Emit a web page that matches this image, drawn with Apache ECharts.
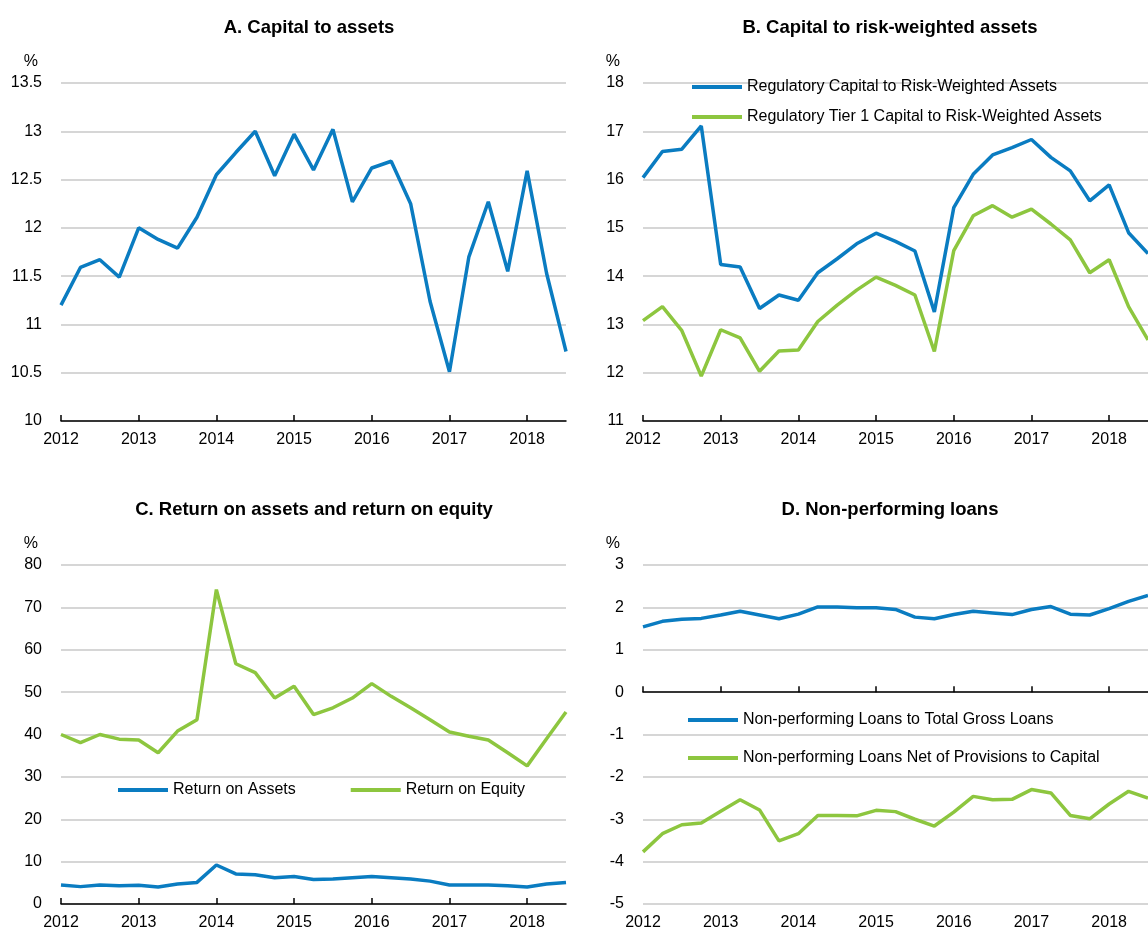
<!DOCTYPE html>
<html>
<head>
<meta charset="utf-8">
<title>Banking soundness indicators</title>
<script src="https://cdn.jsdelivr.net/npm/echarts@6/dist/echarts.min.js"></script>
<style>
  html, body { margin: 0; padding: 0; background: #fff; }
  #main { width: 1148px; height: 931px; }
</style>
</head>
<body>
<div id="main"></div>
<script>
// quarterly observations, 2012Q1 - 2018Q3
var quarters = [
  "2012Q1", "2012Q2", "2012Q3", "2012Q4", "2013Q1", "2013Q2", "2013Q3", "2013Q4",
  "2014Q1", "2014Q2", "2014Q3", "2014Q4", "2015Q1", "2015Q2", "2015Q3", "2015Q4",
  "2016Q1", "2016Q2", "2016Q3", "2016Q4", "2017Q1", "2017Q2", "2017Q3", "2017Q4",
  "2018Q1", "2018Q2", "2018Q3"
];

// A. Capital to assets
var capitalToAssets = [
  11.2, 11.59, 11.67, 11.49, 12.0, 11.88, 11.79, 12.11, 12.55, 12.78, 13.0, 12.54,
  12.97, 12.6, 13.02, 12.27, 12.62, 12.69, 12.25, 11.24, 10.51, 11.7, 12.27, 11.55,
  12.59, 11.53, 10.72
];

// B. Capital to risk-weighted assets
var regCapitalRwa = [
  16.04, 16.58, 16.63, 17.11, 14.24, 14.19, 13.33, 13.61, 13.5, 14.07, 14.36, 14.67,
  14.89, 14.72, 14.52, 13.26, 15.42, 16.11, 16.51, 16.66, 16.83, 16.46, 16.18, 15.56,
  15.89, 14.9, 14.47
];
var tier1CapitalRwa = [
  13.08, 13.37, 12.87, 11.93, 12.89, 12.72, 12.03, 12.45, 12.47, 13.06, 13.4, 13.71,
  13.98, 13.81, 13.61, 12.44, 14.53, 15.25, 15.46, 15.22, 15.39, 15.08, 14.75, 14.07,
  14.34, 13.37, 12.68
];

// C. Return on assets and return on equity
var returnOnAssets = [
  4.5, 4.1, 4.5, 4.3, 4.4, 4.0, 4.7, 5.1, 9.2, 7.1, 6.9, 6.2, 6.5, 5.8, 5.9, 6.2,
  6.5, 6.2, 5.9, 5.4, 4.5, 4.5, 4.5, 4.3, 4.0, 4.7, 5.1
];
var returnOnEquity = [
  40.0, 38.1, 40.0, 38.9, 38.7, 35.7, 40.8, 43.5, 74.2, 56.7, 54.6, 48.6, 51.4, 44.7,
  46.3, 48.6, 52.0, 49.0, 46.3, 43.5, 40.6, 39.6, 38.7, 35.7, 32.6, 39.0, 45.3
];

// D. Non-performing loans
var nplToGrossLoans = [
  1.54, 1.67, 1.72, 1.74, 1.82, 1.91, 1.82, 1.73, 1.84, 2.01, 2.01, 1.99, 1.99, 1.95,
  1.77, 1.73, 1.83, 1.91, 1.87, 1.83, 1.95, 2.02, 1.84, 1.82, 1.97, 2.14, 2.28
];
var nplNetToCapital = [
  -3.77, -3.34, -3.13, -3.09, -2.81, -2.54, -2.78, -3.51, -3.34, -2.91, -2.91, -2.92,
  -2.79, -2.82, -3.0, -3.16, -2.83, -2.46, -2.54, -2.53, -2.3, -2.38, -2.91, -2.99,
  -2.64, -2.34, -2.5
];

var BLUE = "#0A7CC1";
var GREEN = "#8DC63F";
var FONT = "'Liberation Sans', Arial, sans-serif";

var grids = [
  { left: 61, top: 83, width: 505, height: 338 },
  { left: 643, top: 83, width: 505, height: 338 },
  { left: 61, top: 565, width: 505, height: 340 },
  { left: 643, top: 565, width: 505, height: 340 }
];

function xAxis(gridIndex, showLine, showLabel, onZero) {
  return {
    type: "category",
    gridIndex: gridIndex,
    position: "bottom",
    data: quarters,
    boundaryGap: false,
    axisLine: { show: showLine, onZero: onZero, lineStyle: { color: "#000", width: 1.5 } },
    axisTick: { show: showLine, inside: true, length: 6, interval: 3, lineStyle: { color: "#000", width: 1.5 } },
    axisLabel: {
      show: showLabel,
      interval: 3,
      margin: 11,
      color: "#000",
      fontFamily: FONT,
      fontSize: 16,
      formatter: function (v) { return v.slice(0, 4); }
    },
    splitLine: { show: false }
  };
}

function yAxis(gridIndex, min, max, interval) {
  return {
    type: "value",
    gridIndex: gridIndex,
    min: min,
    max: max,
    interval: interval,
    name: "%",
    nameLocation: "end",
    nameGap: 13,
    nameTextStyle: { color: "#000", fontFamily: FONT, fontSize: 16, align: "right", padding: [0, 23, 0, 0] },
    axisLine: { show: false },
    axisTick: { show: false },
    axisLabel: { margin: 19, color: "#000", fontFamily: FONT, fontSize: 16 },
    splitLine: { lineStyle: { color: "#C8C8C8", width: 1.5 } }
  };
}

function line(name, data, color, axisIndex) {
  return {
    name: name,
    type: "line",
    xAxisIndex: axisIndex,
    yAxisIndex: axisIndex,
    data: data,
    symbol: "none",
    lineStyle: { color: color, width: 3.5 },
    itemStyle: { color: color }
  };
}

function title(text, x, y) {
  return {
    text: text,
    left: x,
    top: y,
    textAlign: "center",
    textStyle: { color: "#000", fontFamily: FONT, fontSize: 18.5, fontWeight: "bold" }
  };
}

function legend(names, left, top, orient, gap) {
  return {
    data: names,
    left: left,
    top: top,
    orient: orient,
    itemGap: gap,
    itemWidth: 50,
    itemHeight: 4,
    icon: "rect",
    padding: 0,
    selectedMode: false,
    textStyle: { color: "#000", fontFamily: FONT, fontSize: 16 }
  };
}

var option = {
  animation: false,
  backgroundColor: "#fff",
  title: [
    title("A. Capital to assets", 304, 13),
    title("B. Capital to risk-weighted assets", 885, 13),
    title("C. Return on assets and return on equity", 309, 495),
    title("D. Non-performing loans", 885, 495)
  ],
  legend: [
    legend(["Regulatory Capital to Risk-Weighted Assets", "Regulatory Tier 1 Capital to Risk-Weighted Assets"], 692, 79, "vertical", 14),
    legend(["Return on Assets", "Return on Equity"], 118, 782, "horizontal", 55),
    legend(["Non-performing Loans to Total Gross Loans", "Non-performing Loans Net of Provisions to Capital"], 688, 712, "vertical", 22)
  ],
  grid: grids,
  xAxis: [
    xAxis(0, true, true, true),
    xAxis(1, true, true, true),
    xAxis(2, true, true, true),
    // panel D: axis line sits on zero, labels stay at the bottom
    xAxis(3, true, false, true),
    xAxis(3, false, true, false)
  ],
  yAxis: [
    yAxis(0, 10, 13.5, 0.5),
    yAxis(1, 11, 18, 1),
    yAxis(2, 0, 80, 10),
    yAxis(3, -5, 3, 1)
  ],
  series: [
    line("Capital to assets", capitalToAssets, BLUE, 0),
    line("Regulatory Capital to Risk-Weighted Assets", regCapitalRwa, BLUE, 1),
    line("Regulatory Tier 1 Capital to Risk-Weighted Assets", tier1CapitalRwa, GREEN, 1),
    line("Return on Assets", returnOnAssets, BLUE, 2),
    line("Return on Equity", returnOnEquity, GREEN, 2),
    line("Non-performing Loans to Total Gross Loans", nplToGrossLoans, BLUE, 3),
    line("Non-performing Loans Net of Provisions to Capital", nplNetToCapital, GREEN, 3)
  ]
};

var myChart = echarts.init(document.getElementById("main"));
myChart.setOption(option);
window.addEventListener("resize", function () { myChart.resize(); });
</script>
</body>
</html>
